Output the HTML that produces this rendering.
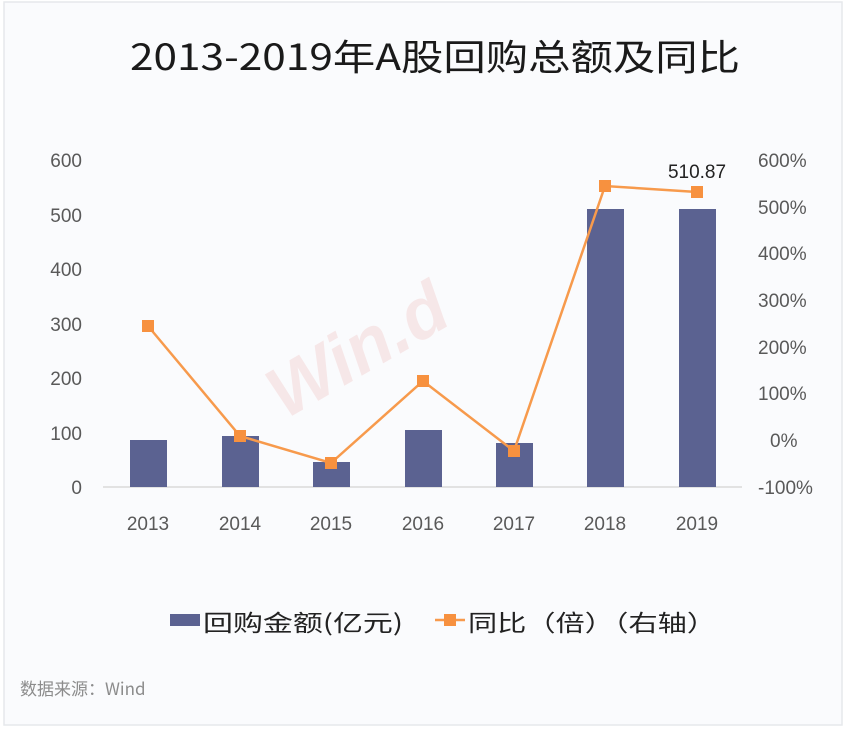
<!DOCTYPE html>
<html><head><meta charset="utf-8"><style>
body{margin:0;width:847px;height:731px;background:#fff;overflow:hidden;font-family:"Liberation Sans","Noto Sans CJK SC",sans-serif}
</style></head><body>
<svg width="847" height="731" xmlns="http://www.w3.org/2000/svg" font-family="Liberation Sans, Noto Sans CJK SC, sans-serif">
<rect x="4" y="2" width="838" height="723" fill="#fafbfd" stroke="#e6e8ec" stroke-width="1.5"/>
<text x="130" y="70" font-size="36" textLength="610" lengthAdjust="spacingAndGlyphs" fill="#1a1a1a" font-family="Noto Sans CJK SC, sans-serif">2013-2019年A股回购总额及同比</text>
<text x="285" y="420" font-size="72" font-weight="bold" fill="#f3d0d0" opacity="0.45" transform="rotate(-30 285 420)" font-style="italic">Win.d</text>
<g font-size="19" fill="#595959" text-anchor="end">
<text x="82" y="167">600</text><text x="82" y="222">500</text><text x="82" y="276">400</text><text x="82" y="331">300</text><text x="82" y="385">200</text><text x="82" y="440">100</text><text x="82" y="494">0</text>
</g>
<g font-size="19" fill="#595959" text-anchor="start">
<text x="758" y="167">600%</text><text x="758" y="214">500%</text><text x="758" y="260">400%</text><text x="758" y="307">300%</text><text x="758" y="354">200%</text><text x="758" y="400">100%</text><text x="770" y="447">0%</text><text x="758" y="494">-100%</text>
</g>
<line x1="103" y1="487" x2="742" y2="487" stroke="#d9d9d9" stroke-width="1.5"/>
<g fill="#5b6291">
<rect x="130" y="440" width="37" height="47"/>
<rect x="222" y="436" width="37" height="51"/>
<rect x="313" y="462" width="37" height="25"/>
<rect x="405" y="430" width="37" height="57"/>
<rect x="496" y="443" width="37" height="44"/>
<rect x="587" y="209" width="37" height="278"/>
<rect x="679" y="209" width="37" height="278"/>
</g>
<polyline points="148,326 240,436 331,463 423,381 514,451 605,186 697,192" fill="none" stroke="#f79a4c" stroke-width="2.5"/>
<g fill="#f7913f">
<rect x="142" y="320" width="12" height="12"/><rect x="234" y="430" width="12" height="12"/><rect x="325" y="457" width="12" height="12"/><rect x="417" y="375" width="12" height="12"/><rect x="508" y="445" width="12" height="12"/><rect x="599" y="180" width="12" height="12"/><rect x="691" y="186" width="12" height="12"/>
</g>
<text x="697" y="178" font-size="19" text-anchor="middle" fill="#222">510.87</text>
<g font-size="19" fill="#595959" text-anchor="middle">
<text x="148" y="530">2013</text><text x="240" y="530">2014</text><text x="331" y="530">2015</text><text x="423" y="530">2016</text><text x="514" y="530">2017</text><text x="605" y="530">2018</text><text x="697" y="530">2019</text>
</g>
<rect x="170" y="614" width="30" height="12" fill="#5b6291"/>
<text x="203" y="631" font-size="23" textLength="200" lengthAdjust="spacingAndGlyphs" fill="#222" font-family="Noto Sans CJK SC, sans-serif">回购金额(亿元)</text>
<line x1="435" y1="620" x2="465" y2="620" stroke="#f79a4c" stroke-width="2.5"/>
<rect x="444" y="614" width="12" height="12" fill="#f7913f"/>
<text x="468" y="631" font-size="23" textLength="248" lengthAdjust="spacingAndGlyphs" fill="#222" font-family="Noto Sans CJK SC, sans-serif">同比（倍）（右轴）</text>
<text x="20" y="695" font-size="17" fill="#8c8c8c" font-family="Noto Sans CJK SC, sans-serif">数据来源：Wind</text>
</svg>
</body></html>
